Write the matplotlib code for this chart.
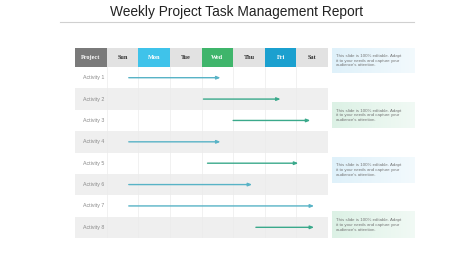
import matplotlib.pyplot as plt
import numpy as np
from matplotlib.patches import Rectangle

days = ["Sun", "Mon", "Tue", "Wed", "Thu", "Fri", "Sat"]
activities = ["Activity 1", "Activity 2", "Activity 3", "Activity 4",
              "Activity 5", "Activity 6", "Activity 7", "Activity 8"]
# start / end of each task, in days from the start of Sunday
task_start = [0.70, 3.06, 4.00, 0.70, 3.19, 0.70, 0.70, 4.72]
task_end = [3.60, 5.50, 6.44, 3.60, 6.06, 4.60, 6.56, 6.56]
task_kind = ["blue", "green", "green", "blue", "green", "blue", "blue", "green"]
note_text = "This slide is 100% editable. Adapt\nit to your needs and capture your\naudience's attention."

W, H = 474, 266
fig = plt.figure(figsize=(W / 100, H / 100), dpi=100)
fig.patch.set_facecolor("white")

def px_axes(x0, y0, x1, y1):
    return fig.add_axes([x0 / W, 1 - y1 / H, (x1 - x0) / W, (y1 - y0) / H])

# title and rule
fig.text(237 / W, 1 - 12 / H, "Weekly Project Task Management Report",
         ha="center", va="center", fontsize=9.9, family="Liberation Sans", color="#222222")
fig.add_artist(plt.Line2D([60 / W, 414 / W], [1 - 22 / H, 1 - 22 / H], color="#d0d0d0", lw=0.8))

# main table
hdr = 0.89
ax = px_axes(75, 48, 328, 238)
ax.set_xlim(-1, 7)
ax.set_ylim(len(activities), -hdr)
ax.axis("off")

header_colors = {"Mon": "#3fc3ea", "Wed": "#3fb56b", "Fri": "#1ba0cf"}
ax.add_patch(Rectangle((-1, -hdr), 1, hdr, color="#7a7a7a", lw=0))
ax.text(-0.5, -hdr / 2, "Project", ha="center", va="center", fontsize=4.5,
        family="Liberation Serif", weight="bold", color="white")
for i, d in enumerate(days):
    c = header_colors.get(d, "#e2e2e2")
    ax.add_patch(Rectangle((i, -hdr), 1, hdr, color=c, lw=0))
    ax.text(i + 0.5, -hdr / 2, d, ha="center", va="center", fontsize=4.5,
            family="Liberation Serif", weight="bold",
            color="white" if d in header_colors else "#333333")

for r, name in enumerate(activities):
    if r % 2 == 1:
        ax.add_patch(Rectangle((-1, r), 8, 1, color="#efefef", lw=0))
    ax.text(-0.75, r + 0.5, name, ha="left", va="center", fontsize=3.8,
            family="Liberation Sans", color="#8a8a8a")

for i in range(8):
    ax.plot([i, i], [0, len(activities)], color="#ebebeb", lw=0.5, zorder=1)

arrow_colors = {"blue": "#58b3c6", "green": "#3aa98b"}
for r in range(len(activities)):
    c = arrow_colors[task_kind[r]]
    ax.annotate("", xy=(task_end[r], r + 0.5), xytext=(task_start[r], r + 0.5),
                arrowprops=dict(arrowstyle="-|>,head_length=0.22,head_width=0.09",
                                color=c, lw=1.0, shrinkA=0, shrinkB=0), zorder=3)

# note boxes on the right
note_ax = px_axes(332, 48, 415, 238)
note_ax.set_xlim(0, 1)
note_ax.set_ylim(len(activities), -hdr)
note_ax.axis("off")
note_rows = [(-0.89, 0.28), (1.68, 2.85), (4.21, 5.42), (6.78, 8.0)]
note_colors = ["#dff1fa", "#dcf1e5", "#dff1fa", "#dcf1e5"]
for (y0, y1), c in zip(note_rows, note_colors):
    rgb = np.array(plt.matplotlib.colors.to_rgb(c))
    t = np.linspace(0, 1, 64)[None, :, None]
    grad = rgb * (1 - t * 0.6) + np.ones(3) * t * 0.6
    note_ax.imshow(grad, extent=(0, 1, y1, y0), aspect="auto", zorder=1)
    note_ax.text(0.05, (y0 + y1) / 2, note_text, ha="left", va="center",
                 fontsize=3.2, family="Liberation Sans", color="#777777",
                 linespacing=1.2, zorder=2)
note_ax.set_xlim(0, 1)
note_ax.set_ylim(len(activities), -hdr)

fig.savefig("out.png", dpi=100, facecolor="white")
